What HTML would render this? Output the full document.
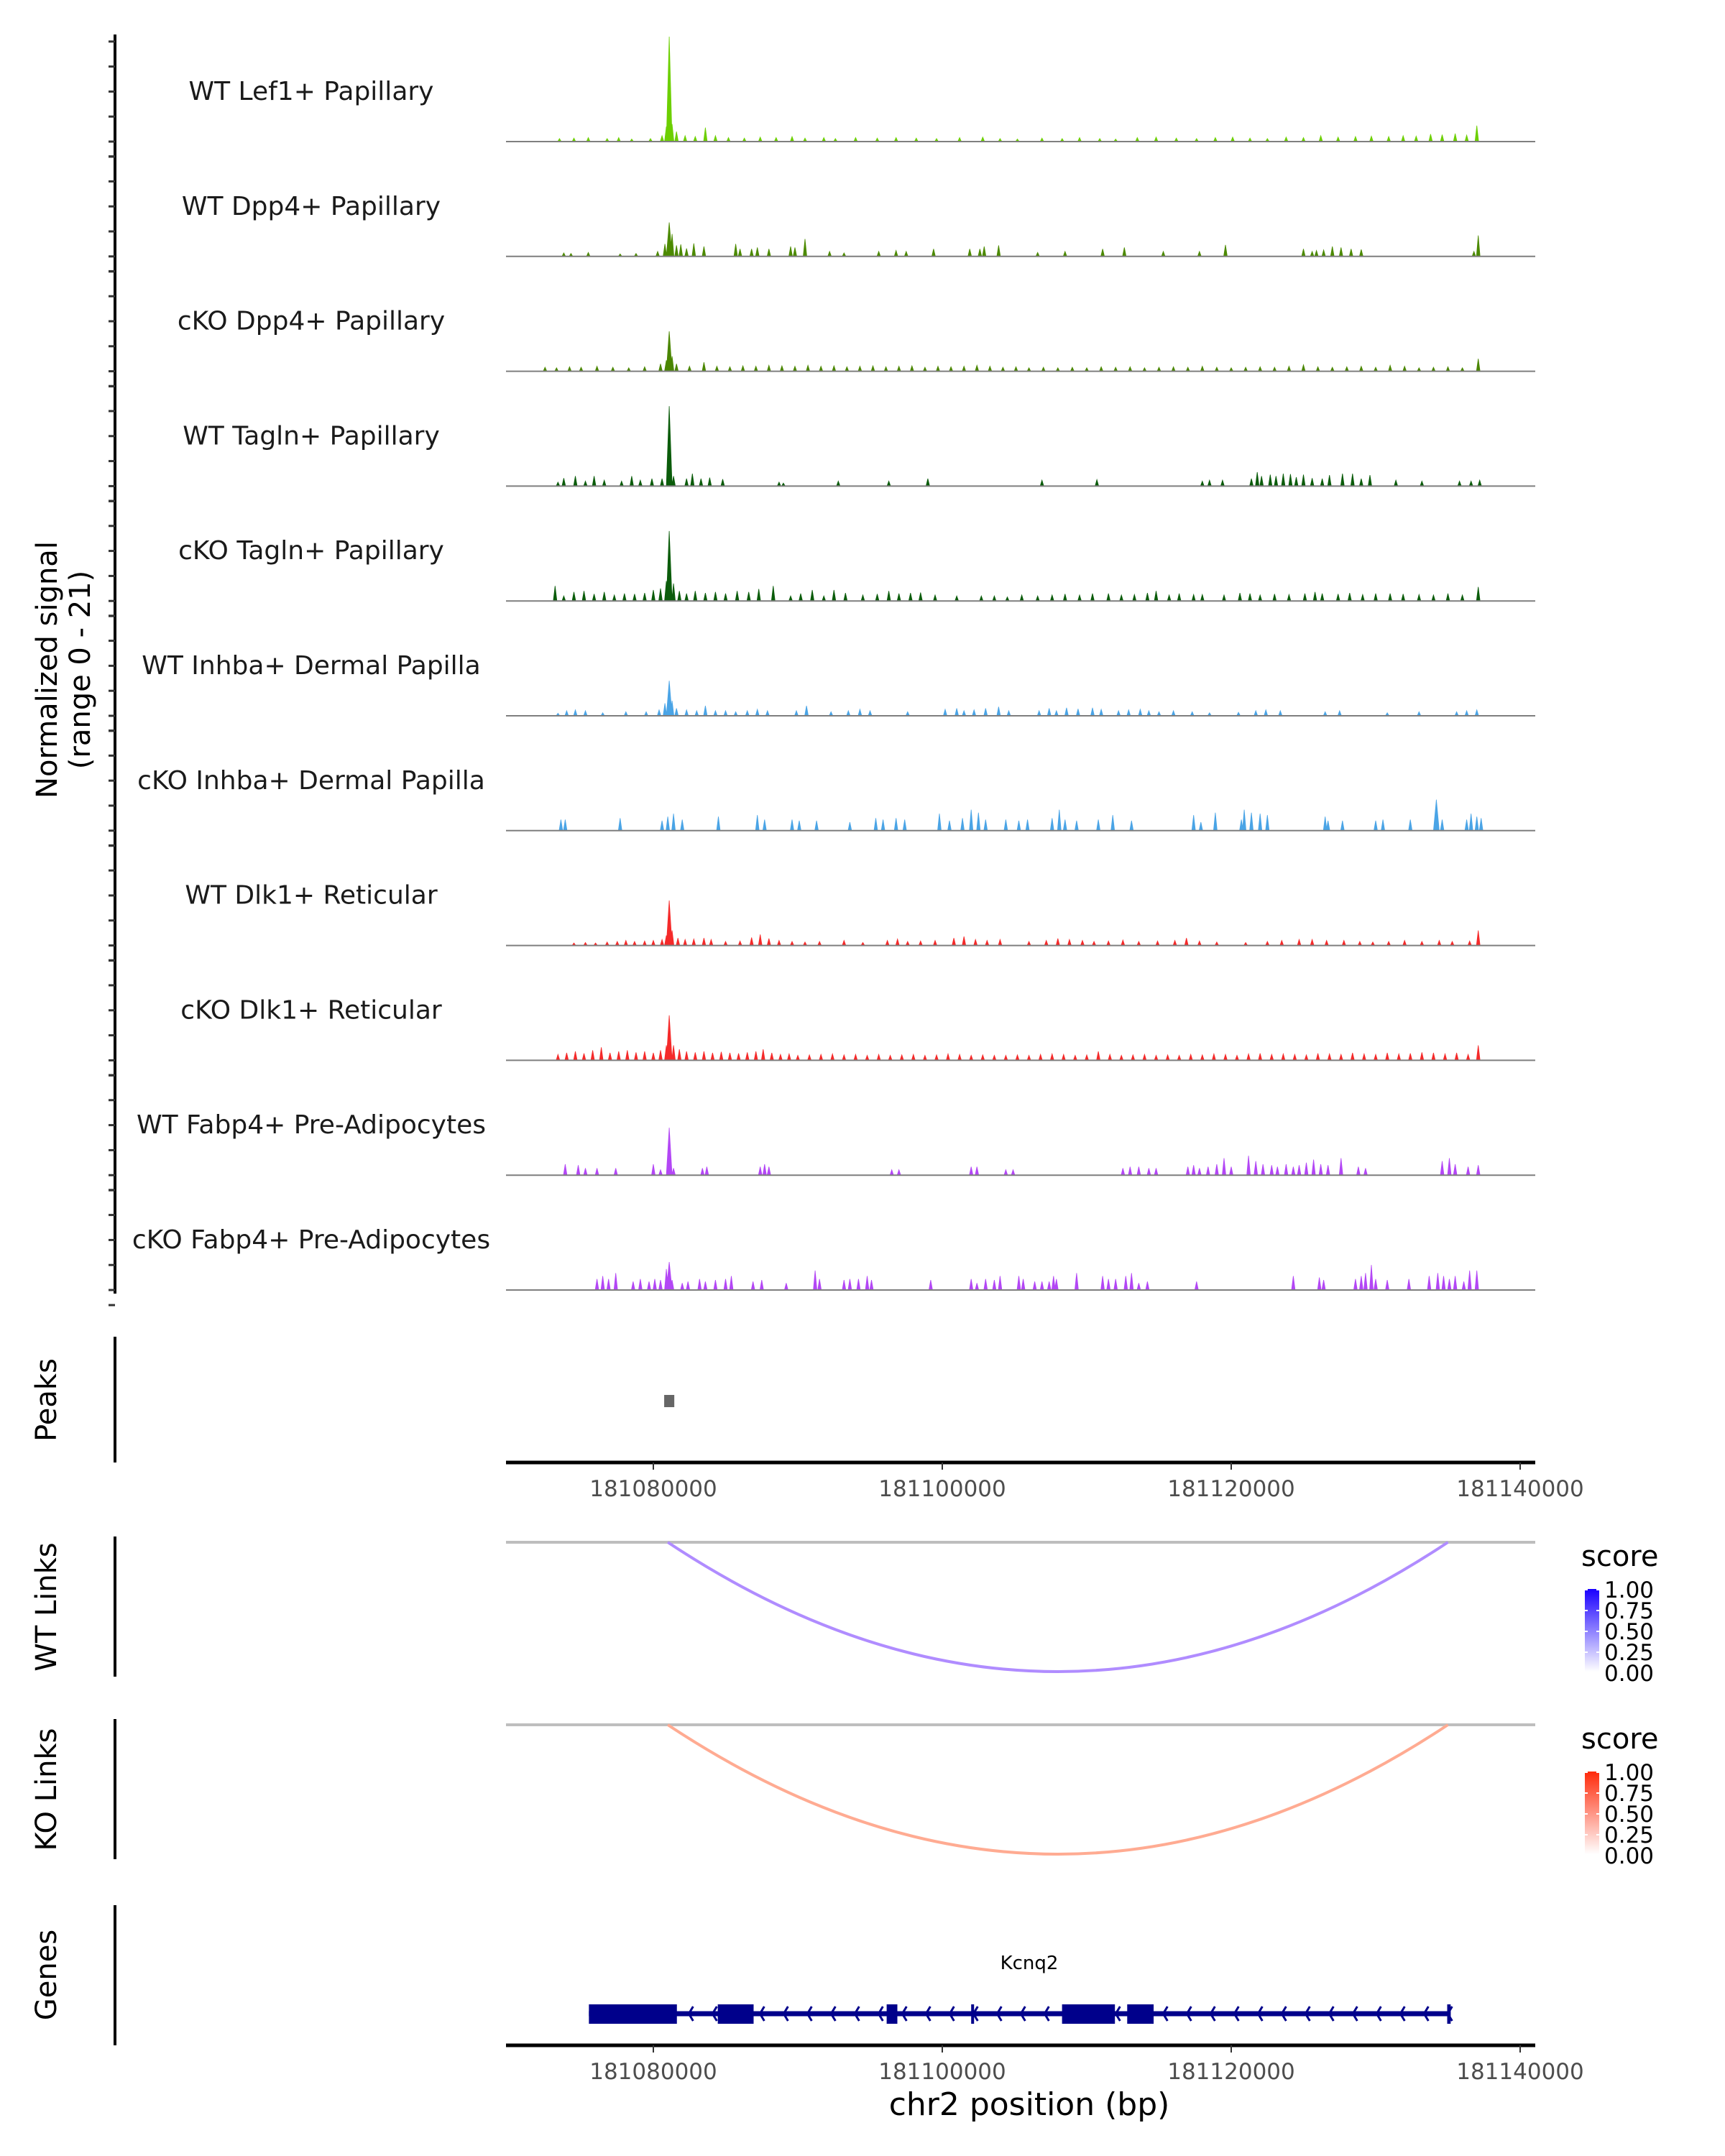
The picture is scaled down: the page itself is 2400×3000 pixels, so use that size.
<!DOCTYPE html>
<html><head><meta charset="utf-8"><style>
html,body{margin:0;padding:0;background:#fff}
svg{display:block}
text{font-family:"DejaVu Sans","Liberation Sans",sans-serif}
</style></head><body>
<svg id="fig" xmlns="http://www.w3.org/2000/svg" width="2400" height="3000" viewBox="0 0 2400 3000">
<rect width="2400" height="3000" fill="#fff"/>
<g id="cov"></g>
<g id="yaxis"></g>
<text transform="translate(79,932) rotate(-90)" text-anchor="middle" font-size="40" fill="#000">Normalized signal</text>
<text transform="translate(125,932) rotate(-90)" text-anchor="middle" font-size="40" fill="#000">(range 0 - 21)</text>
<g id="peaks"></g>
<g id="links"></g>
<g id="genes"></g>
</svg>
<script>
// ---- data (positions in kb offset from chr2:181,000,000; values = normalized signal) ----
const trackNames = ["WT Lef1+ Papillary","WT Dpp4+ Papillary","cKO Dpp4+ Papillary","WT Tagln+ Papillary","cKO Tagln+ Papillary","WT Inhba+ Dermal Papilla","cKO Inhba+ Dermal Papilla","WT Dlk1+ Reticular","cKO Dlk1+ Reticular","WT Fabp4+ Pre-Adipocytes","cKO Fabp4+ Pre-Adipocytes"];
const trackColors = ["#6ccf00","#4c8a00","#4a8600","#0b5c0b","#0b5c0b","#4aa4e6","#4aa4e6","#f52a2a","#f52a2a","#b347f5","#b347f5"];
const wtLef1 = [[73.5,.6],[74.5,.7],[75.5,.8],[76.8,.6],[77.6,.8],[78.5,.5],[79.8,.6],[80.6,1.2],[80.9,3],[81.1,21],[81.3,3.5],[81.6,2],[82.2,1.2],[82.9,1],[83.6,2.8],[84.3,1.2],[85.2,.8],[86.3,.7],[87.4,.9],[88.5,.8],[89.6,1],[90.5,.7],[91.8,.8],[92.6,.6],[94.0,.8],[95.5,.7],[96.8,.8],[98.2,.7],[99.6,.6],[101.2,.8],[102.8,.9],[104.0,.6],[105.2,.5],[106.9,.7],[108.3,.6],[109.5,.8],[110.9,.6],[112.0,.5],[113.5,.8],[114.8,.9],[116.2,.7],[117.6,.6],[118.9,.8],[120.1,.9],[121.3,.7],[122.5,.6],[123.8,.9],[125.0,.8],[126.2,1.2],[127.4,.9],[128.6,1],[129.7,1.1],[130.9,1],[131.9,1.2],[132.8,1.1],[133.8,1.5],[134.6,1.4],[135.5,1.6],[136.3,1.3],[137.0,3.2]];
const wtDpp4 = [[73.8,.7],[74.3,.6],[75.5,.8],[77.7,.5],[78.8,.6],[80.3,1],[80.8,2.5],[81.1,6.8],[81.3,4.5],[81.6,2.2],[81.9,2.4],[82.3,1.6],[82.8,2.6],[83.5,2],[85.7,2.5],[86.0,1.5],[86.8,1.5],[87.2,1.8],[88.0,1.5],[89.5,2],[89.8,1.8],[90.5,3.5],[92.2,1],[93.2,.7],[95.6,1],[96.8,1.2],[97.5,1],[99.4,1.5],[101.9,1.5],[102.6,1.5],[102.9,2],[103.9,2.2],[106.6,.8],[108.5,1],[111.1,1.5],[112.6,1.8],[115.3,1],[117.8,1],[119.6,2.3],[125.0,1.5],[125.6,1],[125.9,1.2],[126.4,1.3],[127.0,2],[127.6,1.8],[128.3,1.5],[129.0,1.4],[136.8,1],[137.1,4.2]];
const koDpp4 = [[72.5,.8],[73.3,.7],[74.2,.9],[75.0,.8],[76.1,1],[77.2,.8],[78.3,.7],[79.4,.9],[80.5,1.5],[80.9,2.2],[81.1,8],[81.3,3],[81.6,1.5],[82.5,1],[83.5,1.8],[84.4,1],[85.3,.9],[86.2,1.1],[87.1,1],[88.0,1.2],[88.9,1.1],[89.8,1],[90.7,1.2],[91.6,1],[92.5,1.1],[93.4,.9],[94.3,1],[95.2,1.1],[96.1,.9],[97.0,1],[97.9,1.1],[98.8,.8],[99.7,1],[100.6,.9],[101.5,1],[102.4,1.2],[103.3,1],[104.2,.8],[105.1,.9],[106.0,.7],[107.0,.8],[108.0,.7],[109.0,.8],[110.0,.7],[111.0,.9],[112.0,.8],[113.0,.9],[114.0,.7],[115.0,.8],[116.0,.9],[117.0,.8],[118.0,1],[119.0,.8],[120.0,.7],[121.0,.8],[122.0,.9],[123.0,.8],[124.0,1],[125.0,1.3],[126.0,.9],[127.0,.8],[128.0,.9],[129.0,1],[130.0,.8],[131.0,1.2],[132.0,1],[133.0,.7],[134.0,.8],[135.0,.9],[136.0,.7],[137.1,2.5]];
const wtTagln = [[73.4,.8],[73.8,1.6],[74.6,2],[75.3,1],[75.9,2],[76.6,1.2],[77.8,1],[78.5,2],[79.1,1.2],[79.9,1.5],[80.6,1.5],[81.1,16],[81.4,2],[82.3,1.5],[82.7,2.5],[83.3,1.5],[83.9,1.7],[84.8,1.4],[88.7,.8],[89.0,.6],[92.8,1],[96.3,1],[99.0,1.5],[106.9,1.2],[110.7,1.3],[118.0,1],[118.5,1.2],[119.4,1.2],[121.4,1.5],[121.8,2.8],[122.1,2],[122.7,2.3],[123.1,2],[123.6,2.5],[124.1,2.4],[124.5,1.8],[125.0,2.3],[125.6,1.6],[126.3,1.5],[126.8,2.2],[127.7,2.5],[128.4,2.5],[129.0,1.5],[129.6,2.2],[131.4,1.2],[133.2,1],[135.8,1],[136.6,1],[137.2,1.2]];
const koTagln = [[73.2,3],[73.8,1],[74.5,1.8],[75.2,2],[75.9,1.4],[76.6,1.8],[77.3,1.2],[78.0,1.5],[78.7,1.4],[79.4,1.6],[80.0,2.2],[80.5,2.5],[80.9,4],[81.1,14],[81.4,3.5],[81.8,2],[82.3,1.5],[82.9,2],[83.6,1.6],[84.3,1.8],[85.0,1.5],[85.8,2],[86.6,1.8],[87.3,2.4],[88.3,3],[89.5,1],[90.2,1.5],[91.0,2.2],[91.8,1],[92.5,2.2],[93.3,1.6],[94.5,1.2],[95.5,1.4],[96.3,2],[97.0,1.5],[97.8,1.6],[98.5,1.7],[99.5,1.2],[101.0,1],[102.7,1],[103.6,1],[104.5,.8],[105.5,1.2],[106.6,1],[107.6,1.2],[108.5,1.4],[109.5,1.2],[110.4,1.5],[111.5,1.5],[112.4,1.2],[113.3,1.3],[114.2,1.6],[114.8,2],[115.7,1.2],[116.4,1.5],[117.4,1.3],[118.0,1.3],[119.5,1.2],[120.6,1.6],[121.3,1.5],[122.0,1.2],[123.0,1.4],[124.0,1.3],[125.1,1.5],[125.8,1.8],[126.3,1.5],[127.4,1.4],[128.2,1.6],[129.1,1.3],[130.0,1.5],[131.0,1.5],[131.9,1.4],[133.0,1.3],[134.0,1.2],[135.0,1.5],[136.0,1.2],[137.1,2.8]];
const wtInhba = [[73.4,.5],[74.0,1],[74.6,1.2],[75.3,1],[76.5,.6],[78.1,.8],[79.5,.8],[80.4,1.2],[80.8,2.5],[81.1,7],[81.3,3],[81.6,1.5],[82.3,1.2],[83.0,1],[83.6,2],[84.3,1],[85.0,1],[85.7,.8],[86.5,1],[87.2,1.3],[87.9,1],[89.9,1],[90.6,2],[92.3,.8],[93.5,1],[94.3,1.3],[95.0,1],[97.6,.8],[100.2,1.3],[101.0,1.5],[101.5,1],[102.2,1.2],[103.0,1.5],[103.9,1.8],[104.6,1],[106.7,1],[107.4,1.5],[107.9,1],[108.6,1.6],[109.4,1.4],[110.4,1.6],[111.0,1.3],[112.2,1],[112.9,1.2],[113.7,1.3],[114.3,1],[115.0,.8],[116.0,1],[117.3,.8],[118.5,.6],[120.5,.7],[121.7,1],[122.4,1.2],[123.4,1],[126.5,.8],[127.5,1],[130.8,.6],[133.0,.8],[135.6,.8],[136.3,1],[137.0,1.2]];
const koInhba = [[73.6,2.2],[73.9,2.2],[77.7,2.5],[80.6,2],[81.0,2.8],[81.4,3.4],[82.0,2.2],[84.5,2.8],[87.2,3.1],[87.7,2.2],[89.6,2.2],[90.1,2],[91.3,2],[93.6,1.7],[95.4,2.5],[95.9,2.2],[96.8,2.5],[97.4,2.2],[99.8,3.4],[100.5,2],[101.4,2.5],[102.0,4.2],[102.5,3.6],[103.0,2.2],[104.4,2.2],[105.3,2],[105.9,2.2],[107.6,2.5],[108.1,4.2],[108.5,2.2],[109.3,2],[110.8,2.2],[111.8,3.1],[113.1,2],[117.4,3.1],[117.9,1.7],[118.9,3.6],[120.7,2.2],[120.9,4.2],[121.4,3.6],[122.0,3.4],[122.5,3.1],[126.5,2.8],[126.7,2],[127.7,2],[130.0,2],[130.5,2.2],[132.4,2.2],[134.2,6.2],[134.6,2.2],[136.3,2.2],[136.6,3.4],[137.0,2.8],[137.3,2.5]];
const wtDlk1 = [[74.5,.5],[75.3,.6],[76.0,.5],[76.8,.7],[77.5,.8],[78.1,1],[78.7,.8],[79.4,.9],[80.0,1],[80.6,1.2],[80.9,2],[81.1,9],[81.3,3],[81.7,1.5],[82.2,1.2],[82.8,1.3],[83.5,1.5],[84.0,1.2],[85.0,.8],[86.0,.9],[86.8,1.6],[87.4,2.2],[88.0,1.4],[88.7,1],[89.6,.8],[90.5,.7],[91.5,.8],[93.2,1],[94.5,.6],[96.2,1],[96.9,1.3],[97.6,.8],[98.5,.9],[99.5,1],[100.8,1.5],[101.5,1.8],[102.3,1.2],[103.1,1],[104.0,1.2],[106.0,.8],[107.2,1],[108.0,1.4],[108.8,1.2],[109.7,1],[110.5,.8],[111.5,.9],[112.5,1.1],[113.6,.8],[114.9,.9],[116.1,1],[116.9,1.5],[117.8,.9],[119.0,.7],[121.0,.6],[122.5,.8],[123.5,1],[124.7,1.2],[125.6,1.2],[126.6,1],[127.8,1],[128.9,.8],[129.8,.7],[130.9,.8],[132.0,1],[133.2,.8],[134.4,1],[135.3,.8],[136.5,.9],[137.1,3]];
const koDlk1 = [[73.4,1.2],[74.0,1.5],[74.6,1.8],[75.2,1.4],[75.8,2],[76.4,2.6],[77.0,1.5],[77.6,1.8],[78.2,2],[78.8,1.6],[79.4,1.8],[80.0,1.5],[80.5,2],[80.9,3],[81.1,9],[81.4,3],[81.8,2.2],[82.3,1.8],[82.9,1.6],[83.5,1.8],[84.1,1.5],[84.7,1.7],[85.3,1.5],[85.9,1.4],[86.5,1.6],[87.1,1.8],[87.6,2.2],[88.2,1.5],[88.8,1.2],[89.4,1.3],[90.0,1],[90.8,1.1],[91.6,1.2],[92.4,1.3],[93.2,1.1],[94.0,1.2],[94.8,1],[95.6,1.2],[96.4,1],[97.2,1.1],[98.0,1.2],[98.8,1],[99.6,1.1],[100.4,1.3],[101.2,1.2],[102.0,1],[102.8,1.1],[103.6,1],[104.4,1],[105.2,1.1],[106.0,1],[106.8,1.2],[107.6,1.3],[108.4,1.2],[109.2,1],[110.0,1.1],[110.8,1.8],[111.6,1.2],[112.4,1],[113.2,1.1],[114.0,1.2],[114.8,1],[115.6,1.1],[116.4,1],[117.2,1.2],[118.0,1.1],[118.8,1.3],[119.6,1.2],[120.4,1],[121.2,1.3],[122.0,1.4],[122.8,1.2],[123.6,1.3],[124.4,1.2],[125.2,1.1],[126.0,1.4],[126.8,1.3],[127.6,1.2],[128.4,1.5],[129.2,1.3],[130.0,1.2],[130.8,1.5],[131.6,1.3],[132.4,1.4],[133.2,1.6],[134.0,1.5],[134.8,1.3],[135.6,1.5],[136.4,1.2],[137.1,3]];
const wtFabp4 = [[73.9,2.2],[74.8,2],[75.3,1.4],[76.1,1.4],[77.4,1.4],[80.0,2.2],[80.5,1.1],[81.1,9.5],[81.4,1.4],[83.4,1.4],[83.7,1.7],[87.4,1.7],[87.7,2.2],[88.0,1.7],[96.5,1.1],[97.0,1.1],[102.0,1.7],[102.4,1.7],[104.4,1.1],[104.9,1.1],[112.5,1.4],[113.0,1.7],[113.6,1.7],[114.3,1.4],[114.8,1.4],[117.0,1.7],[117.4,2],[117.8,1.4],[118.4,1.7],[119.0,2.2],[119.5,3.4],[120.0,1.7],[121.2,3.9],[121.7,2.8],[122.2,2.2],[122.8,2],[123.2,1.7],[123.8,2.2],[124.3,1.7],[124.7,2],[125.2,2.5],[125.7,3.1],[126.2,2.2],[126.7,2],[127.6,3.4],[128.8,1.7],[129.3,1.4],[134.6,2.8],[135.1,3.4],[135.5,2.2],[136.4,1.7],[137.1,2]];
const koFabp4 = [[76.1,2.2],[76.5,2.8],[76.9,2.2],[77.4,3.4],[78.6,1.7],[79.1,2.2],[79.7,1.7],[80.1,2.2],[80.5,2],[80.9,4.2],[81.1,5.6],[81.3,2],[82.0,1.4],[82.4,1.7],[83.2,2.2],[83.6,1.7],[84.3,2],[85.0,2.2],[85.4,2.8],[86.9,1.7],[87.5,2],[89.2,1.4],[91.2,3.9],[91.5,2.2],[93.2,2],[93.6,2.2],[94.2,2.2],[94.8,2.8],[95.1,2],[99.2,2],[102.0,2.2],[102.4,1.4],[103.0,2.2],[103.6,2],[104.0,2.8],[105.3,2.8],[105.6,2.2],[106.4,1.7],[106.9,1.7],[107.4,1.7],[107.7,2.8],[107.9,2.2],[109.3,3.4],[111.1,2.8],[111.5,2.2],[112.0,2.2],[112.7,2.8],[113.1,3.4],[113.6,1.4],[114.2,1.7],[117.6,1.7],[124.3,2.8],[126.1,2.5],[126.4,2],[128.6,2.2],[129.0,2.8],[129.3,3.4],[129.7,5],[130.0,2.2],[130.8,2],[132.3,2.2],[133.7,2.8],[134.3,3.4],[134.7,2.8],[135.1,2.2],[135.5,2.8],[136.1,1.7],[136.5,3.9],[137.0,3.9]];
const trackData = [wtLef1,wtDpp4,koDpp4,wtTagln,koTagln,wtInhba,koInhba,wtDlk1,koDlk1,wtFabp4,koFabp4];
const xTicks = [80, 100, 120, 140]; // kb offsets
const xTickLabels = ["181080000","181100000","181120000","181140000"];
const peakRegions = [[80.75, 81.45]];
const linkStart = [81.0], linkEnd = [135.0], wtScore = [0.45], koScore = [0.45];
const legendTicks = ["1.00","0.75","0.50","0.25","0.00"];
const geneSpan = [75.54, 135.19];
const geneExons = [[75.54,81.63],[84.46,86.94],[96.15,96.89],[108.29,111.95],[112.8,114.63],[102.0,102.2],[134.95,135.19]];

// ---- scales ----
const NS='http://www.w3.org/2000/svg';
const X0=704, X1=2136;
function xs(kb){ return 909 + (kb-80)*20.1; }
const PXU = 146/21;
function el(tag, attrs, parent){ const e=document.createElementNS(NS,tag); for(const k in attrs) e.setAttribute(k,attrs[k]); parent.appendChild(e); return e; }

const cov=document.getElementById('cov');
const yax=document.getElementById('yaxis');
const base0=197, step=159.8;
el('line',{x1:160,y1:48,x2:160,y2:1800,stroke:'#000','stroke-width':4},yax);
trackData.forEach((arr,i)=>{
  const by=base0+step*i;
  const g=el('g',{},cov);
  
  
  const lab=el('text',{x:433,y:by-58,'text-anchor':'middle','font-size':36,fill:'#1a1a1a'},g);
  lab.textContent=trackNames[i];
  
  
  let d='';
  arr.forEach(p=>{ const x=xs(p[0]); const h=p[1]*PXU; const w=p[1]>5?4:2.5;
    d+=`M${(x-w).toFixed(1)} ${by} L${x.toFixed(1)} ${(by-h).toFixed(1)} L${(x+w).toFixed(1)} ${by} Z `; });
  const pth=el('path',{d:d,fill:trackColors[i],stroke:trackColors[i],'stroke-width':0.8},g);
  
  
  const bl=el('line',{x1:X0,y1:by,x2:X1,y2:by,stroke:'#7f7f7f','stroke-width':2},g);
  
  
  for(let k=0;k<5;k++){ const ty=by-k*34.8; el('line',{x1:151,y1:ty,x2:160,y2:ty,stroke:'#333','stroke-width':3},yax); }
  el('line',{x1:151,y1:by+21,x2:160,y2:by+21,stroke:'#333','stroke-width':3},yax);
});

// ---- peaks ----
const pk=document.getElementById('peaks');
el('line',{x1:160,y1:1860,x2:160,y2:2035,stroke:'#000','stroke-width':4},pk);
const pt=el('text',{transform:'translate(78,1948) rotate(-90)','text-anchor':'middle','font-size':40,fill:'#000'},pk); pt.textContent='Peaks';


peakRegions.forEach(r=>{ const rc=el('rect',{x:xs(r[0]),y:1941,width:xs(r[1])-xs(r[0]),height:17,fill:'#666'},pk);
  
   });
function xAxis(parent, y){
  const a=el('line',{x1:X0,y1:y,x2:X1,y2:y,stroke:'#000','stroke-width':5},parent);
  
  
  xTicks.forEach((t,i)=>{ const x=xs(t); el('line',{x1:x,y1:y,x2:x,y2:y+10,stroke:'#333','stroke-width':2},parent);
    const tl=el('text',{x:x,y:y+47,'text-anchor':'middle','font-size':31,fill:'#4d4d4d'},parent); tl.textContent=xTickLabels[i];
    
     });
}
xAxis(pk,2035);

// ---- links ----
const lk=document.getElementById('links');
function linkPanel(top, title, score, col0, col1, arcCol, name){
  const g=el('g',{},lk);
  
  
  el('line',{x1:160,y1:top-8,x2:160,y2:top+187,stroke:'#000','stroke-width':4},g);
  const t=el('text',{transform:`translate(78,${top+90}) rotate(-90)`,'text-anchor':'middle','font-size':40,fill:'#000'},g); t.textContent=title;
  
  
  el('line',{x1:X0,y1:top,x2:X1,y2:top,stroke:'#bebebe','stroke-width':4},g);
  linkStart.forEach((s,i)=>{ const a=xs(s), b=xs(linkEnd[i]); const m=(a+b)/2;
    const arc=el('path',{d:`M${a} ${top} Q${m} ${top+360} ${b} ${top}`,fill:'none',stroke:arcCol,'stroke-width':4},g);
    
     });
  const gid='grad'+name;
  const defs=el('defs',{},g); const lg=el('linearGradient',{id:gid,x1:0,y1:1,x2:0,y2:0},defs);
  el('stop',{offset:0,'stop-color':col0},lg); el('stop',{offset:1,'stop-color':col1},lg);
  const st=el('text',{x:2200,y:top+33,'font-size':40,fill:'#000'},g); st.textContent='score';
  
  
  const cb=el('rect',{x:2205,y:top+65,width:20,height:115,fill:`url(#${gid})`},g);
  
  
  legendTicks.forEach((l,i)=>{ const y=top+66+i*29;
    el('line',{x1:2205,y1:y,x2:2209,y2:y,stroke:'#fff','stroke-width':2},g); el('line',{x1:2221,y1:y,x2:2225,y2:y,stroke:'#fff','stroke-width':2},g);
    const lt=el('text',{x:2232,y:y+11,'font-size':31,fill:'#000'},g); lt.textContent=l;
    
     });
}
linkPanel(2146,'WT Links',wtScore,'#ffffff','#1a00ff','#b08cff','wt-links-panel');
linkPanel(2400,'KO Links',koScore,'#ffffff','#ff2a0a','#ffab92','ko-links-panel');

// ---- genes ----
const gn=document.getElementById('genes');
el('line',{x1:160,y1:2651,x2:160,y2:2846,stroke:'#000','stroke-width':4},gn);
const gt=el('text',{transform:'translate(78,2748) rotate(-90)','text-anchor':'middle','font-size':40,fill:'#000'},gn); gt.textContent='Genes';


const gl=el('text',{x:1432,y:2740,'text-anchor':'middle','font-size':26,fill:'#000'},gn); gl.textContent='Kcnq2';


const gline=el('line',{x1:xs(geneSpan[0]),y1:2802,x2:xs(geneSpan[1]),y2:2802,stroke:'#00008b','stroke-width':7},gn);


let chev='';
for(let x=xs(geneSpan[0])+40;x<xs(geneSpan[1]);x+=33){ chev+=`M${x+6} 2792 L${x} 2802 L${x+6} 2812 `; }
el('path',{d:chev,fill:'none',stroke:'#00008b','stroke-width':3},gn);
geneExons.forEach(e=>{ const r=el('rect',{x:xs(e[0]),y:2789,width:Math.max(4,xs(e[1])-xs(e[0])),height:27,fill:'#00008b'},gn);
  
   });
xAxis(gn,2846);
const xt=el('text',{x:1432,y:2943,'text-anchor':'middle','font-size':44,fill:'#000'},gn); xt.textContent='chr2 position (bp)';


</script>
</body></html>
